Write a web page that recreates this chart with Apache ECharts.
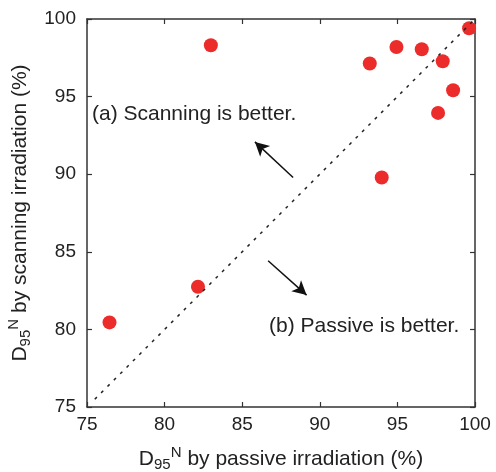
<!DOCTYPE html>
<html>
<head>
<meta charset="utf-8">
<script src="https://cdn.jsdelivr.net/npm/echarts@6/dist/echarts.min.js"></script>
<style>
html,body{margin:0;padding:0;background:#fff;}
#main{width:496px;height:472px;}
</style>
</head>
<body>
<div id="main"></div>
<script>
// passive vs scanning D95N values (%)
var passive = [76.45, 82.15, 82.98, 93.22, 94.94, 96.57, 97.92, 99.62, 98.59, 97.62, 93.99];
var scanning = [80.45, 82.75, 98.31, 97.13, 98.2, 98.05, 97.28, 99.4, 95.41, 93.95, 89.79];
var diagonal = [[75.5, 75.5], [100, 100]];
// arrow annotations: [from, to]
var arrowUp = [[88.28, 89.79], [85.82, 92.08]];
var arrowDown = [[86.67, 84.42], [89.15, 82.21]];
var ticks = [75, 80, 85, 90, 95, 100];

var fontFam = 'Liberation Sans, Arial, sans-serif';
var axisCol = '#333';

function pts(){
    var d = [];
    for (var i = 0; i < passive.length; i++) d.push([passive[i], scanning[i]]);
    return d;
}

var nameRich = {
    d: {fontSize: 21, fontFamily: fontFam, color: '#222'},
    sub: {fontSize: 15, fontFamily: fontFam, color: '#222', padding: [11, 0, 0, 0]},
    sup: {fontSize: 15, fontFamily: fontFam, color: '#222', padding: [0, 0, 13, 0]},
    t: {fontSize: 21, fontFamily: fontFam, color: '#222'}
};

function mainAxis(name, gap, rotate){
    return {
        type: 'value', min: ticks[0], max: ticks[ticks.length - 1], interval: 5,
        name: name, nameLocation: 'middle', nameGap: gap, nameRotate: rotate,
        nameTextStyle: {rich: nameRich},
        axisLine: {show: true, lineStyle: {color: axisCol, width: 1.5}},
        axisTick: {show: true, inside: true, length: 5, lineStyle: {color: axisCol, width: 1.2}},
        axisLabel: {fontSize: 19, fontFamily: fontFam, color: '#222', margin: 8},
        splitLine: {show: false}
    };
}
function mirrorAxis(pos){
    return {
        type: 'value', position: pos, min: ticks[0], max: ticks[ticks.length - 1], interval: 5,
        axisLine: {show: true, onZero: false, lineStyle: {color: axisCol, width: 1.5}},
        axisTick: {show: true, inside: true, length: 5, lineStyle: {color: axisCol, width: 1.2}},
        axisLabel: {show: false},
        splitLine: {show: false}
    };
}

var xa = mainAxis('{d|D}{sub|95}{sup|N}{t| by passive irradiation (%)}', 38, 0);
var ya = mainAxis('{d|D}{sub|95}{sup|N}{t| by scanning irradiation (%)}', 44, 90);
ya.axisLabel.margin = 11;

var chart = echarts.init(document.getElementById('main'));
chart.setOption({
    animation: false,
    grid: {left: 87, top: 19, right: 21, bottom: 65, outerBoundsMode: 'none'},
    xAxis: [xa, mirrorAxis('top')],
    yAxis: [ya, mirrorAxis('right')],
    graphic: [
        {type: 'text', left: 92, top: 104, style: {text: '(a) Scanning is better.', fontSize: 21, fontFamily: fontFam, fill: '#222'}},
        {type: 'text', left: 269, top: 316, style: {text: '(b) Passive is better.', fontSize: 21, fontFamily: fontFam, fill: '#222'}}
    ],
    series: [
        {
            type: 'line', data: diagonal, symbol: 'none', silent: true,
            lineStyle: {color: '#222', width: 1.5, type: [3, 6]},
            markLine: {
                silent: true, symbol: ['none', 'arrow'], symbolSize: [11, 14],
                label: {show: false},
                lineStyle: {color: '#111', width: 1.5, type: 'solid'},
                data: [
                    [{coord: arrowUp[0]}, {coord: arrowUp[1]}],
                    [{coord: arrowDown[0]}, {coord: arrowDown[1]}]
                ]
            }
        },
        {
            type: 'scatter', data: pts(), symbolSize: 14,
            itemStyle: {color: '#ec2b2b', opacity: 1}
        }
    ]
});
</script>
</body>
</html>
